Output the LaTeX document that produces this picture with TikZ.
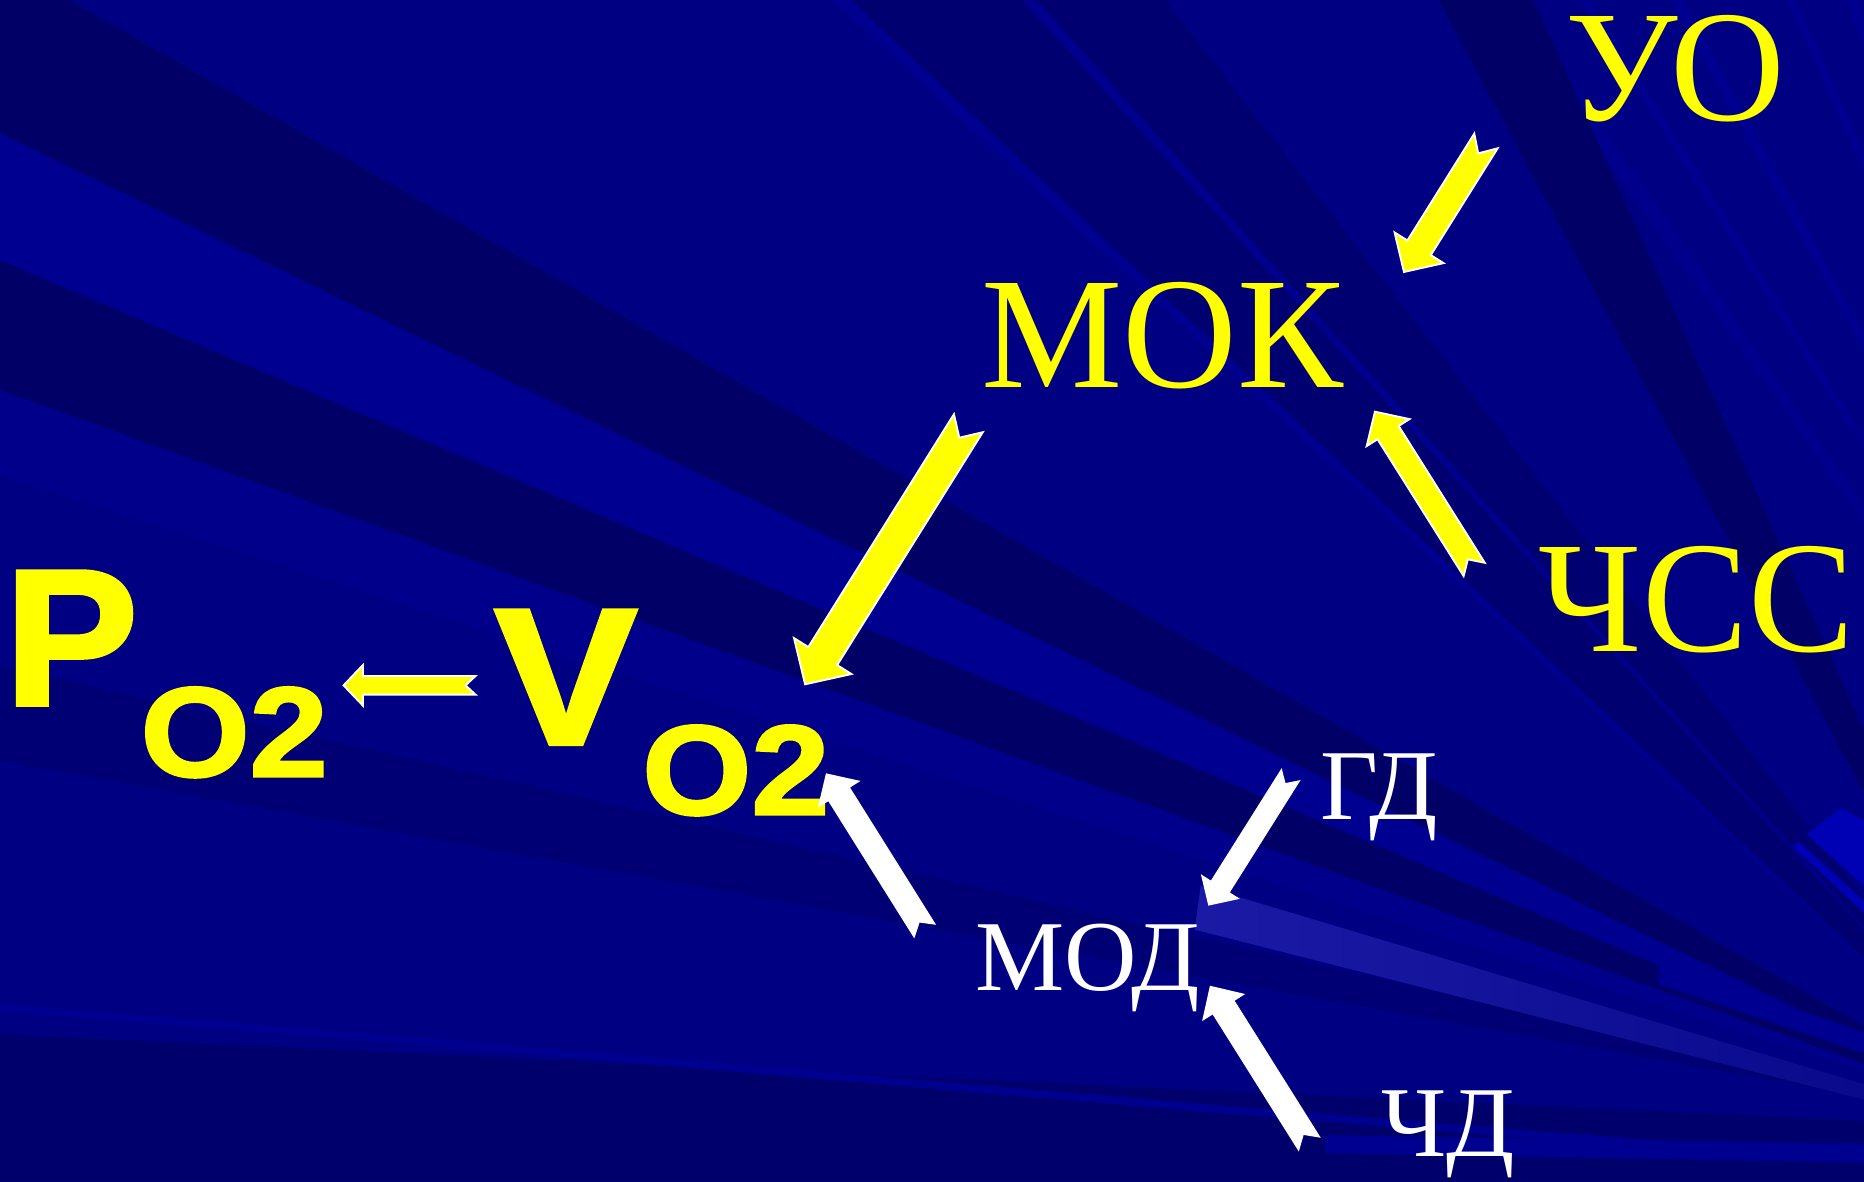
\documentclass[tikz,border=0pt]{standalone}
\usepackage{fontspec}
\usepackage{graphicx}
\setmainfont{Liberation Serif}
\newfontfamily\bigsans[FakeBold=2]{Liberation Sans Bold}
\usetikzlibrary{calc}
\definecolor{bgbase}{RGB}{0,0,130}
\definecolor{bgdark}{RGB}{0,0,102}
\definecolor{bglight}{RGB}{0,0,144}
\definecolor{bgbright}{RGB}{0,0,180}
\definecolor{raylight}{RGB}{26,26,166}
\definecolor{rayend}{RGB}{10,10,140}
\definecolor{yel}{RGB}{255,255,0}

% block arrow with notched tail: #1 style, #2 tail, #3 tip, #4 shaft half width, #5 head half width, #6 head length, #7 notch depth (units of 0.01cm)
\newcommand\blockarrow[7]{%
  \pgfpointdiff{\pgfpointanchor{#2}{center}}{\pgfpointanchor{#3}{center}}%
  \pgfgetlastxy{\baDx}{\baDy}%
  \pgfmathsetmacro\baAng{atan2(\baDy,\baDx)}%
  \pgfmathsetmacro\baLen{veclen(\baDx,\baDy)}%
  \pgfmathsetlengthmacro\baS{#4*0.01cm}%
  \pgfmathsetlengthmacro\baW{#5*0.01cm}%
  \pgfmathsetlengthmacro\baH{#6*0.01cm}%
  \pgfmathsetlengthmacro\baN{#7*0.01cm}%
  \pgfmathsetlengthmacro\baNeck{\baLen pt-\baH}%
  \begin{scope}[shift={(#2)}, rotate=\baAng]
    \path[#1] (0pt,\baS) -- (\baNeck,\baS) -- (\baNeck,\baW) -- (\baLen pt,0pt)
      -- (\baNeck,-\baW) -- (\baNeck,-\baS) -- (0pt,-\baS) -- (\baN,0pt) -- cycle;
  \end{scope}}

\begin{document}
\begin{tikzpicture}[x=0.01cm,y=-0.01cm,
  serifyel/.style={text=yel, font=\fontsize{38}{40}\selectfont, inner sep=0pt, outer sep=0pt, anchor=base},
  serifwhite/.style={text=white, font=\fontsize{24}{26}\selectfont, inner sep=0pt, outer sep=0pt, anchor=base},
  bigsym/.style={text=yel, font=\bigsans\fontsize{46.5}{48}\selectfont, inner sep=0pt, outer sep=0pt, anchor=base},
  subsym/.style={text=yel, font=\bigsans\fontsize{30.5}{32}\selectfont, inner sep=0pt, outer sep=0pt, anchor=base},
  yarrow/.style={fill=yel, draw=white, line width=0.45pt, line join=miter},
  warrow/.style={fill=white}]
\useasboundingbox (0,0) rectangle (1568,994);
% ---------- background ----------
\fill[bgbase] (0,0) rectangle (1568,994);
\begin{scope}
  \clip (0,0) rectangle (1568,994);
  \coordinate (apex) at (1720,950);
  \coordinate (apexb) at (1930,950);
  \fill[bgdark] (apex) -- (58,0) -- (0,0) -- (0,112) -- cycle;
  \fill[bglight] (apex) -- (0,112) -- (0,219) -- cycle;
  \fill[bgdark] (apex) -- (0,219) -- (0,328) -- cycle;
  \fill[bglight!60!bgbase] (apex) -- (0,328) -- (0,400) -- cycle;
  \fill[bgdark!50!bgbase] (apex) -- (0,560) -- (0,640) -- cycle;
  \fill[bgdark!80!bgbase] (apex) -- (0,870) -- (0,994) -- (1568,994) -- cycle;
  \fill[bgdark!60!bgbase] (apex) -- (700,0) -- (980,0) -- cycle;
  \fill[bglight!70!bgbase] (apexb) -- (1256,0) -- (1275,0) -- cycle;
  \fill[bglight] (apexb) -- (1329,0) -- (1338,0) -- cycle;
  \fill[bglight] (apexb) -- (1405,0) -- (1416,0) -- cycle;
  \fill[bglight] (apexb) -- (1503,0) -- (1511,0) -- cycle;
  \fill[bglight] (apexb) -- (1553,0) -- (1562,0) -- cycle;
  \fill[bglight] (apex) -- (700,0) -- (716,0) -- cycle;
  \fill[bglight!70!bgbase] (apex) -- (860,0) -- (872,0) -- cycle;
  \fill[bgdark] (apex) -- (1210,0) -- (1290,0) -- cycle;
  % bright patches on the right
  \fill[bgbright] (1520,702) -- (1548,680) -- (1568,690) -- (1568,745) -- cycle;
  \fill[bgbright] (1508,712) -- (1513,708) -- (1568,758) -- (1568,768) -- cycle;
  \fill[bglight] (1395,810) -- (1568,868) -- (1568,886) -- (1395,828) -- cycle;
  % bright ray from MOD
  \shade[left color=raylight, right color=rayend] (1010,745) -- (1568,912) -- (1568,925) -- (1005,782) -- cycle;
  % thin curved line near the bottom
  \draw[bglight, line width=1.8pt] (0,848) .. controls (500,885) and (1000,935) .. (1580,976);
  \fill[bglight] (1115,955) -- (1568,962) -- (1568,978) -- (1115,970) -- cycle;
\end{scope}

% ---------- texts ----------
\node[serifyel] (uo) at (1409,101) {УО};
\node[serifyel] (mok) at (978,326) {МОК};
\node[serifyel] (chss) at (1427,548) {ЧСС};
\node[serifwhite] (gd) at (1160,689) {ГД};
\node[serifwhite] (mod) at (915,833) {МОД};
\node[serifwhite] (chd) at (1218,973) {ЧД};
\node[bigsym] (p) at (60,593) {\scalebox{1.03}[1]{P}};
\node[subsym] (po2) at (197,653) {\scalebox{1.1}[1]{O2}};
\node[bigsym] (v) at (476,626) {\scalebox{1.1}[1]{V}};
\node[subsym] (vo2) at (619,685) {\scalebox{1.1}[1]{O2}};

% ---------- arrow end points ----------
\coordinate (a1t) at (1250,118.6);  \coordinate (a1h) at (1181,228.8);
\coordinate (a2t) at (1240.1,479);  \coordinate (a2h) at (1156.6,346.3);
\coordinate (a3t) at (814.6,356);   \coordinate (a3h) at (677.2,575.7);
\coordinate (a4t) at (778.3,783.7); \coordinate (a4h) at (694.8,650.5);
\coordinate (a5t) at (1086.1,651.2);\coordinate (a5h) at (1016.4,761.9);
\coordinate (a6t) at (1101.8,962.9);\coordinate (a6h) at (1017.8,829.2);
\coordinate (a7t) at (400,576.5);   \coordinate (a7h) at (289,576.5);

% ---------- arrows ----------
\blockarrow{yarrow}{a1t}{a1h}{11.6}{24.3}{24}{12.3}
\blockarrow{yarrow}{a2t}{a2h}{10.5}{21.3}{20.8}{10}
\blockarrow{yarrow}{a3t}{a3h}{14.3}{28.5}{28}{14.4}
\blockarrow{yarrow}{a7t}{a7h}{7.8}{17.1}{16.3}{8.4}
\blockarrow{warrow}{a4t}{a4h}{10.8}{21.2}{20.9}{9}
\blockarrow{warrow}{a5t}{a5h}{9.4}{19.4}{19}{8.9}
\blockarrow{warrow}{a6t}{a6h}{10.9}{21.4}{21.7}{9.7}
\end{tikzpicture}
\end{document}
